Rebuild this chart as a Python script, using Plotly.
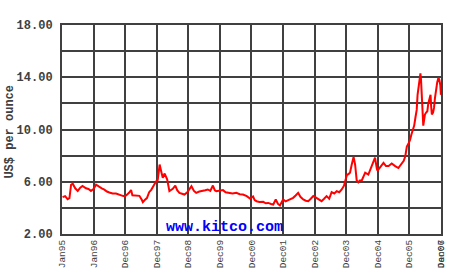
import plotly.graph_objects as go

dates = [
    "1995-01-08", "1995-02-06", "1995-03-07", "1995-03-28", "1995-04-16", "1995-05-05",
    "1995-06-03", "1995-07-02", "1995-07-31", "1995-08-26", "1995-10-05", "1995-11-03",
    "1995-12-02", "1996-01-01", "1996-01-30", "1996-03-07", "1996-04-05", "1996-05-05",
    "1996-06-03", "1996-07-02", "1996-08-08", "1996-09-17", "1996-10-20", "1996-12-02",
    "1996-12-24", "1997-01-12", "1997-02-14", "1997-03-10", "1997-03-25", "1997-04-20",
    "1997-06-14", "1997-07-13", "1997-07-24", "1997-08-15", "1997-09-09", "1997-10-05",
    "1997-10-31", "1997-11-25", "1997-12-24", "1998-01-12", "1998-01-26", "1998-02-03",
    "1998-02-21", "1998-03-11", "1998-04-02", "1998-05-01", "1998-05-27", "1998-07-05",
    "1998-08-03", "1998-08-25", "1998-09-20", "1998-10-19", "1998-11-17", "1998-12-20",
    "1999-02-06", "1999-03-07", "1999-04-02", "1999-05-08", "1999-06-17", "1999-07-16",
    "1999-08-14", "1999-09-12", "1999-10-12", "1999-11-03", "1999-11-21", "2000-01-01",
    "2000-02-06", "2000-03-07", "2000-04-05", "2000-05-26", "2000-07-09", "2000-08-18",
    "2000-09-24", "2000-11-07", "2000-12-14", "2001-01-19", "2001-02-06", "2001-02-28",
    "2001-04-02", "2001-05-16", "2001-06-14", "2001-07-13", "2001-08-15", "2001-09-09",
    "2001-10-08", "2001-11-03", "2001-11-25", "2002-01-01", "2002-01-30", "2002-02-28",
    "2002-03-29", "2002-04-27", "2002-05-26", "2002-06-24", "2002-07-20", "2002-08-22",
    "2002-09-20", "2002-10-19", "2002-11-17", "2002-12-16", "2003-01-12", "2003-02-10",
    "2003-03-22", "2003-04-20", "2003-05-19", "2003-06-18", "2003-07-16", "2003-08-15",
    "2003-09-13", "2003-10-12", "2003-11-10", "2003-12-06", "2003-12-17", "2004-01-08",
    "2004-02-06", "2004-02-14", "2004-03-04", "2004-03-26", "2004-04-13", "2004-05-01",
    "2004-05-19", "2004-06-07", "2004-06-29", "2004-07-20", "2004-08-07", "2004-09-13",
    "2004-10-05", "2004-10-23", "2004-11-14", "2004-11-29", "2004-12-20", "2004-12-28",
    "2005-01-26", "2005-03-07", "2005-04-05", "2005-05-05", "2005-06-10", "2005-07-02",
    "2005-07-20", "2005-08-26", "2005-09-20", "2005-10-05", "2005-10-27", "2005-11-14",
    "2005-12-02", "2005-12-20", "2006-01-08", "2006-01-23", "2006-02-10", "2006-02-25",
    "2006-03-11", "2006-03-26", "2006-04-05", "2006-04-16", "2006-04-27", "2006-05-08",
    "2006-05-15", "2006-05-23", "2006-06-03", "2006-06-10", "2006-06-21", "2006-06-29",
    "2006-07-13", "2006-07-27", "2006-08-07", "2006-08-18", "2006-09-02", "2006-09-09",
    "2006-09-17", "2006-10-01", "2006-10-12", "2006-10-23", "2006-11-03", "2006-11-18",
    "2006-12-02", "2006-12-13", "2006-12-24", "2006-12-31",
]

prices = [
    4.82, 4.90, 4.67, 4.75, 5.77, 5.85,
    5.50, 5.30, 5.55, 5.68, 5.50, 5.45,
    5.30, 5.45, 5.77, 5.60, 5.50, 5.40,
    5.25, 5.18, 5.10, 5.10, 5.00, 4.92,
    4.90, 4.95, 5.15, 5.36, 4.97, 4.95,
    4.92, 4.60, 4.44, 4.60, 4.75, 5.20,
    5.40, 5.70, 6.03, 6.13, 6.92, 7.32,
    6.80, 6.30, 6.63, 6.18, 5.28, 5.46,
    5.71, 5.35, 5.15, 5.10, 5.02, 5.20,
    5.66, 5.30, 5.15, 5.25, 5.28, 5.35,
    5.41, 5.30, 5.71, 5.35, 5.28, 5.30,
    5.36, 5.20, 5.15, 5.10, 5.15, 5.05,
    5.02, 4.90, 4.72, 4.87, 4.60, 4.51,
    4.45, 4.46, 4.35, 4.38, 4.30, 4.26,
    4.64, 4.30, 4.18, 4.64, 4.50, 4.59,
    4.65, 4.77, 4.95, 5.15, 4.85, 4.64,
    4.55, 4.51, 4.70, 4.90, 4.80, 4.69,
    4.51, 4.70, 4.90, 4.70, 5.20, 5.10,
    5.28, 5.20, 5.41, 5.70, 5.92, 6.50,
    6.64, 6.70, 7.30, 7.90, 7.30, 6.10,
    5.95, 6.10, 6.10, 6.50, 6.70, 6.55,
    6.90, 7.20, 7.50, 7.85, 7.00, 6.85,
    7.10, 7.45, 7.20, 7.20, 7.40, 7.25,
    7.20, 7.05, 7.30, 7.45, 7.60, 7.95,
    8.70, 8.90, 9.20, 9.60, 10.00, 10.30,
    10.90, 11.50, 12.65, 13.30, 13.65, 14.30,
    13.80, 12.90, 11.50, 10.30, 10.80, 11.15,
    11.30, 11.40, 12.00, 12.40, 12.65, 11.80,
    11.15, 11.30, 11.65, 12.40, 13.15, 13.60,
    13.97, 13.80, 13.40, 12.65,
]

x_tick_vals = [
    "1995-01-01", "1996-01-01", "1996-12-31", "1997-12-31", "1998-12-31", "1999-12-31",
    "2000-12-31", "2001-12-31", "2002-12-31", "2003-12-31", "2004-12-31", "2005-12-31",
    "2006-12-31", "2007-01-01",
]
x_tick_text = [
    "Jan95", "Jan96", "Dec96", "Dec97", "Dec98", "Dec99", "Dec00", "Dec01", "Dec02",
    "Dec03", "Dec04", "Dec05", "Dec06", "Jan07",
]
y_tick_vals = [2, 4, 6, 8, 10, 12, 14, 16, 18]
y_tick_text = ["2.00", "", "6.00", "", "10.00", "", "14.00", "", "18.00"]

grid = "#404040"
mono = "Liberation Mono, DejaVu Sans Mono, monospace"

fig = go.Figure()
fig.add_trace(go.Scatter(
    x=dates, y=prices, mode="lines",
    line=dict(color="#ff0000", width=2),
    hoverinfo="skip", showlegend=False,
))

fig.update_layout(
    width=450, height=270,
    margin=dict(l=62, r=9, t=25, b=36),
    paper_bgcolor="white", plot_bgcolor="white",
    xaxis=dict(
        type="date", range=["1995-01-01", "2007-01-01"], automargin=False,
        tickmode="array", tickvals=x_tick_vals, ticktext=x_tick_text,
        tickangle=-90, ticks="", ticklabelstandoff=0,
        tickfont=dict(family=mono, size=9.5, color="#404040"),
        showgrid=True, gridcolor=grid, gridwidth=2,
        showline=True, linecolor=grid, linewidth=2, mirror=True,
        zeroline=False,
    ),
    yaxis=dict(
        range=[2, 18], automargin=False,
        tickmode="array", tickvals=y_tick_vals, ticktext=y_tick_text,
        ticks="", ticklabelstandoff=5,
        tickfont=dict(family=mono, size=12, color="#404040", weight="bold"),
        showgrid=True, gridcolor=grid, gridwidth=2,
        showline=True, linecolor=grid, linewidth=2, mirror=True,
        zeroline=False,
    ),
    annotations=[
        dict(
            text="US$ per ounce", textangle=-90,
            xref="paper", yref="paper", x=0, y=0.49,
            xanchor="center", yanchor="middle", xshift=-52, showarrow=False,
            font=dict(family=mono, size=12, color="#404040", weight="bold"),
        ),
        dict(
            text="www.kitco.com",
            xref="paper", yref="paper", x=0.43, y=0.03,
            xanchor="center", yanchor="middle", showarrow=False,
            font=dict(family=mono, size=15, color="#0000ff", weight="bold"),
        ),
    ],
)

fig.write_html("out.html")
